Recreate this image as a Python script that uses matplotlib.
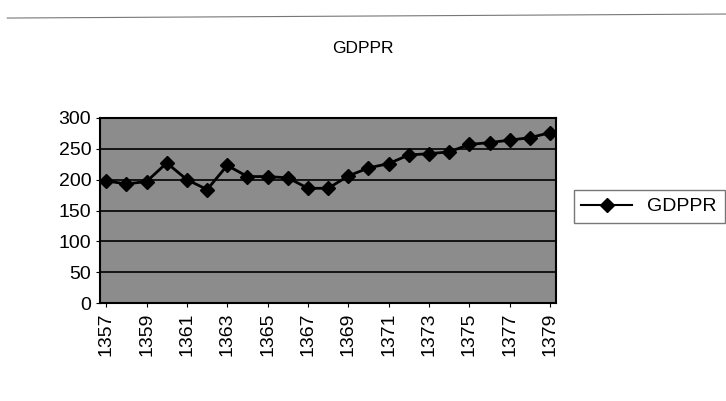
import matplotlib
matplotlib.use('Agg')
import matplotlib.pyplot as plt
from matplotlib.lines import Line2D

years = list(range(1357, 1380))
gdppr = [198, 193, 197, 227, 200, 184, 223, 205, 205, 203, 186, 186,
         206, 219, 226, 240, 242, 245, 257, 260, 264, 268, 276]
tick_years = years[::2]

plt.rcParams['font.family'] = ['Liberation Sans', 'DejaVu Sans']

fig = plt.figure(figsize=(7.26, 4.01), dpi=100)
ax = fig.add_axes([0.138, 0.244, 0.628, 0.462])
ax.set_facecolor('#8c8c8c')

# faint top edge of the chart area, as in the scan
fig.add_artist(Line2D([0.01, 1.0], [0.955, 0.965], transform=fig.transFigure,
                      color='#777777', lw=0.8))

ax.plot(range(len(years)), gdppr, color='black', lw=2, marker='D', ms=7)

ax.set_ylim(0, 300)
ax.set_xlim(-0.3, len(years) - 0.7)
ax.set_yticks([0, 50, 100, 150, 200, 250, 300])
ax.grid(axis='y', color='black', lw=1.2)
ax.set_axisbelow(True)
ax.set_xticks(range(0, len(years), 2))
ax.set_xticklabels([str(y) for y in tick_years], rotation=90)
ax.tick_params(labelsize=14, length=3)
for s in ax.spines.values():
    s.set_linewidth(1.5)

fig.text(0.5, 0.88, 'GDPPR', ha='center', va='center', fontsize=12.5)

handle = Line2D([], [], color='black', lw=1.5, marker='D', ms=7)
fig.legend([handle], ['GDPPR'], loc='center left', bbox_to_anchor=(0.79, 0.485),
           fontsize=14, frameon=True, fancybox=False, edgecolor='#555555',
           handlelength=2.6, borderaxespad=0)

fig.savefig('out.png', dpi=100)
